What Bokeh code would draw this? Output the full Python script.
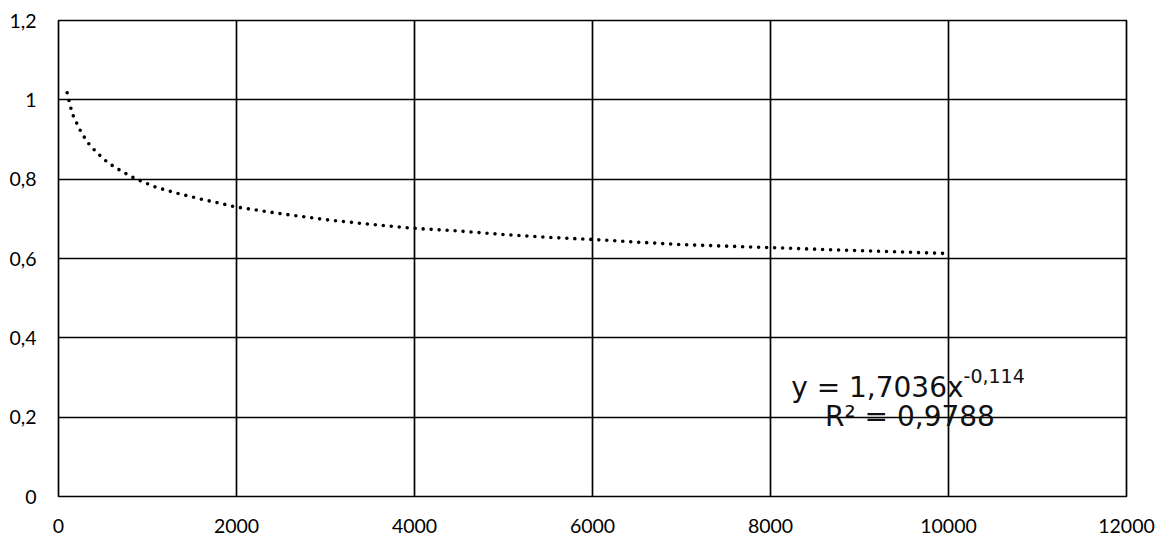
from bokeh.plotting import figure
from bokeh.models import Range1d, FixedTicker, Label
from bokeh.embed import file_html
from bokeh.resources import INLINE

# Trendline points
x_vals = [97, 135, 161, 199, 236, 322, 434, 558, 708, 857, 1090, 1340, 1596,
          1839, 1989, 2494, 3000, 3506, 4000, 4517, 5022, 5528, 5996, 6989,
          7925, 8824, 9985]
y_vals = [1.018, 0.982, 0.962, 0.944, 0.926, 0.894, 0.866, 0.841, 0.820, 0.802,
          0.780, 0.764, 0.750, 0.738, 0.730, 0.713, 0.698, 0.686, 0.676, 0.669,
          0.660, 0.653, 0.648, 0.635, 0.628, 0.621, 0.6126]

x_ticks = [0, 2000, 4000, 6000, 8000, 10000, 12000]
x_tick_labels = ["0", "2000", "4000", "6000", "8000", "10000", "12000"]
y_ticks = [0, 0.2, 0.4, 0.6, 0.8, 1.0, 1.2]
y_tick_labels = ["0", "0,2", "0,4", "0,6", "0,8", "1", "1,2"]

eq_main = "y = 1,7036x"
eq_exp = "-0,114"
eq_r2 = "R² = 0,9788"

p = figure(width=1157, height=535, output_backend="svg", toolbar_location=None,
           x_range=Range1d(0, 12000), y_range=Range1d(0, 1.2),
           min_border_left=58, min_border_right=31, min_border_top=20,
           min_border_bottom=38)

p.background_fill_color = "white"
p.border_fill_color = "white"
p.outline_line_color = "black"
p.outline_line_width = 1.7

for ax in (p.xaxis[0], p.yaxis[0]):
    ax.axis_line_color = None
    ax.major_tick_line_color = None
    ax.minor_tick_line_color = None
    ax.major_tick_out = 0
    ax.major_tick_in = 0
    ax.major_label_text_font = "Lato"
    ax.major_label_text_font_size = "19.5px"
    ax.major_label_text_color = "black"

p.xaxis[0].ticker = FixedTicker(ticks=x_ticks)
p.xaxis[0].major_label_overrides = dict(zip(x_ticks, x_tick_labels))
p.xaxis[0].major_label_standoff = 22
p.yaxis[0].ticker = FixedTicker(ticks=y_ticks)
p.yaxis[0].major_label_overrides = dict(zip(y_ticks, y_tick_labels))
p.yaxis[0].major_label_standoff = 22

p.xgrid[0].ticker = FixedTicker(ticks=x_ticks)
p.ygrid[0].ticker = FixedTicker(ticks=y_ticks)
for g in (p.xgrid[0], p.ygrid[0]):
    g.grid_line_color = "black"
    g.grid_line_width = 1.7
    g.grid_line_alpha = 1.0

p.line(x_vals, y_vals, line_color="black", line_width=3.6,
       line_dash="0 8", line_cap="round")

font = "DejaVu Sans"
p.add_layout(Label(x=10169, y=0.2755, text=eq_main, text_align="right",
                   text_baseline="alphabetic", text_font=font,
                   text_font_size="28px", text_color="#111111"))
p.add_layout(Label(x=10169, y=0.303, text=eq_exp, text_align="left",
                   text_baseline="alphabetic", text_font=font,
                   text_font_size="19px", text_color="#111111"))
p.add_layout(Label(x=9567, y=0.201, text=eq_r2, text_align="center",
                   text_baseline="alphabetic", text_font=font,
                   text_font_size="28px", text_color="#111111"))

open("out.html", "w").write(file_html(p, INLINE))
